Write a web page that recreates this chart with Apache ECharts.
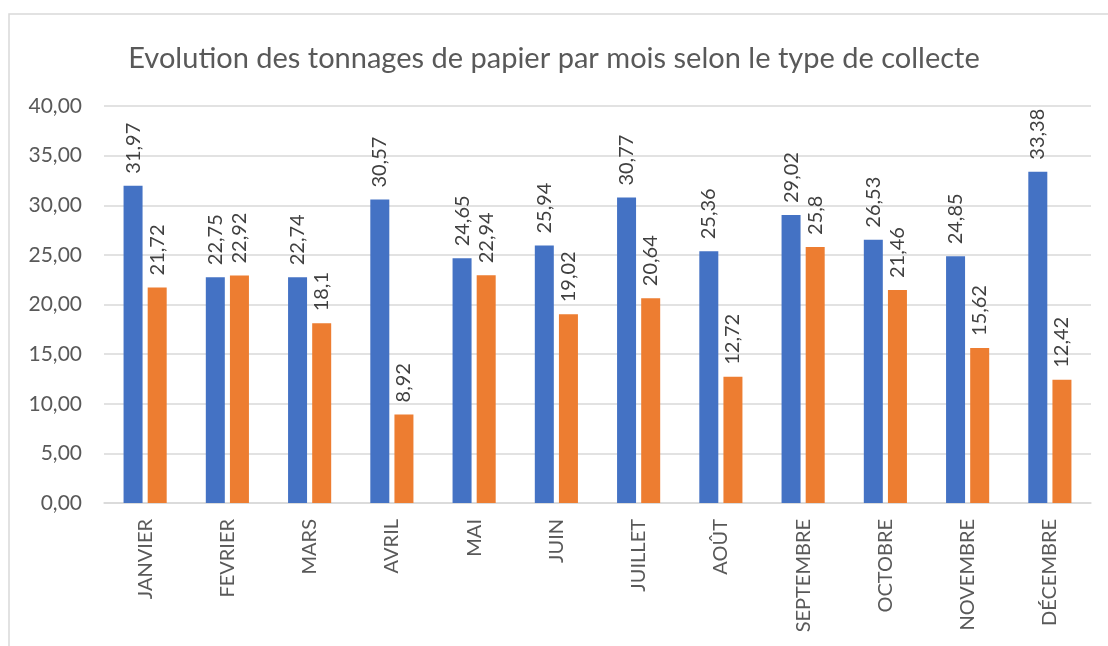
<!DOCTYPE html>
<html><head><meta charset="utf-8">
<script src="https://cdn.jsdelivr.net/npm/echarts@6/dist/echarts.min.js"></script>
<style>html,body{margin:0;padding:0;background:#fff}#c{width:1108px;height:646px}</style>
</head><body><div id="c"></div>
<script>
const months = ["JANVIER","FEVRIER","MARS","AVRIL","MAI","JUIN","JUILLET","AOÛT","SEPTEMBRE","OCTOBRE","NOVEMBRE","DÉCEMBRE"];
const serieA = [31.97,22.75,22.74,30.57,24.65,25.94,30.77,25.36,29.02,26.53,24.85,33.38];
const serieB = [21.72,22.92,18.1,8.92,22.94,19.02,20.64,12.72,25.8,21.46,15.62,12.42];
const yTicks = [0,5,10,15,20,25,30,35,40];

const font = "Lato, sans-serif";
const fmt = v => String(v).replace('.', ',');
const lbl = {show:true, position:'top', rotate:90, align:'left', verticalAlign:'middle', distance:12,
  color:'#404040', fontSize:20, fontFamily:font, formatter:p=>fmt(p.value)};
const chart = echarts.init(document.getElementById('c'));
chart.setOption({
  animation:false,
  title:{text:'Evolution des tonnages de papier par mois selon le type de collecte', left:'center', top:39,
    textStyle:{color:'#595959', fontSize:29, fontWeight:'normal', fontFamily:font}},
  graphic:[{type:'rect', shape:{x:9, y:14, width:1200, height:800}, style:{fill:'none', stroke:'#d9d9d9', lineWidth:1.5}, silent:true}],
  grid:{left:104, right:17, top:106, bottom:143},
  xAxis:{type:'category', data:months, axisTick:{show:false},
    axisLine:{lineStyle:{color:'#d9d9d9', width:1.5}},
    axisLabel:{rotate:90, margin:16, color:'#595959', fontSize:20, fontFamily:font, interval:0}},
  yAxis:{type:'value', min:yTicks[0], max:yTicks[yTicks.length-1], interval:5,
    axisLine:{show:false}, axisTick:{show:false},
    splitLine:{lineStyle:{color:'#d9d9d9', width:1.5}},
    axisLabel:{color:'#595959', fontSize:21, fontFamily:font, margin:22, formatter:v=>v.toFixed(2).replace('.', ',')}},
  series:[
    {type:'bar', data:serieA, barWidth:19, barGap:'27%', itemStyle:{color:'#4472C4'}, label:lbl},
    {type:'bar', data:serieB, barWidth:19, barGap:'27%', itemStyle:{color:'#ED7D31'}, label:lbl}
  ]
});
</script></body></html>
